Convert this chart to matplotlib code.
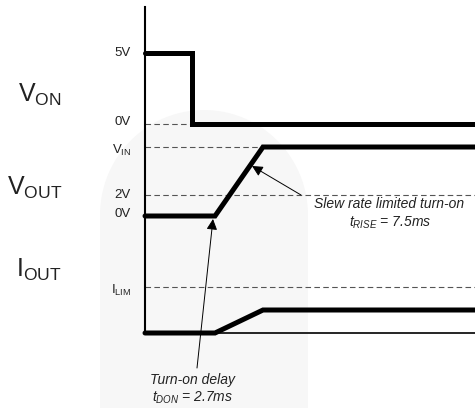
import numpy as np
import matplotlib.pyplot as plt
from matplotlib.patches import Polygon

plt.rcParams['font.family'] = ['Liberation Sans', 'DejaVu Sans']
plt.rcParams['mathtext.fontset'] = 'custom'
plt.rcParams['mathtext.rm'] = 'Liberation Sans'
plt.rcParams['mathtext.it'] = 'Liberation Sans:italic'

# timing diagram, time in diagram units from the vertical axis, levels in px from top
von_t = [0, 47, 47, 330]
von_y = [53, 53, 124, 124]
vout_t = [0, 70, 118, 330]
vout_y = [216, 216, 147, 147]
iout_t = [0, 70, 118, 330]
iout_y = [333, 333, 310, 310]

ref_levels = [124, 147, 195, 287]
level_labels = ['0V', r'V$_{\mathrm{IN}}$', '2V', '0V', r'I$_{\mathrm{LIM}}$', '5V']
level_label_y = [122, 150, 195, 214, 290, 53]

signal_names = [r'V$_{\mathrm{ON}}$', r'V$_{\mathrm{OUT}}$', r'I$_{\mathrm{OUT}}$']
signal_name_y = [95, 188, 270]

fig = plt.figure(figsize=(4.75, 4.08), dpi=100)
ax = fig.add_axes([0, 0, 1, 1])
ax.set_xlim(-145, 330)
ax.set_ylim(408, 0)
ax.set_axis_off()

# faint watermark in background
th = np.linspace(np.pi, 0, 60)
arc_x = 59 + 104 * np.cos(th)
arc_y = 215 - 105 * np.sin(th)
wm = np.column_stack([np.r_[-45, arc_x, 163], np.r_[408, arc_y, 408]])
ax.add_patch(Polygon(wm, closed=True, facecolor='#f7f7f7', edgecolor='none', zorder=0))

# reference dashed lines
for lv in ref_levels:
    ax.plot([0, 330], [lv, lv], color='#555555', lw=0.8, ls=(0, (5, 3)), zorder=1)

# axes
ax.plot([0, 0], [7, 333], color='black', lw=1.5, zorder=2)
ax.plot([0, 330], [333, 333], color='black', lw=1.2, zorder=2)

# traces
for t, y in [(von_t, von_y), (vout_t, vout_y), (iout_t, iout_y)]:
    ax.plot(t, y, color='black', lw=3.6, solid_capstyle='round',
            solid_joinstyle='miter', zorder=3)

for lab, y in zip(level_labels, level_label_y):
    ax.text(-14, y, lab, ha='right', va='center', fontsize=9.5, color='#222222')

for lab, y in zip(signal_names, signal_name_y):
    ax.text(-83, y, lab, ha='right', va='center', fontsize=18, color='#222222')

arrow = dict(arrowstyle='-|>', lw=0.7, color='black', mutation_scale=16,
             shrinkA=0, shrinkB=0)
ax.annotate('', xy=(107, 166), xytext=(156, 195), arrowprops=arrow, zorder=4)
ax.annotate('', xy=(68, 219), xytext=(52, 368), arrowprops=arrow, zorder=4)

ax.text(244, 204, 'Slew rate limited turn-on', ha='center', va='center',
        fontsize=10, style='italic', color='#222222')
ax.text(245, 223, r'$t_{RISE}$ = 7.5ms', ha='center', va='center',
        fontsize=10, style='italic', color='#222222')
ax.text(48, 380, 'Turn-on delay', ha='center', va='center',
        fontsize=10, style='italic', color='#222222')
ax.text(48, 398, r'$t_{DON}$ = 2.7ms', ha='center', va='center',
        fontsize=10, style='italic', color='#222222')

fig.savefig('out.png', dpi=100)
